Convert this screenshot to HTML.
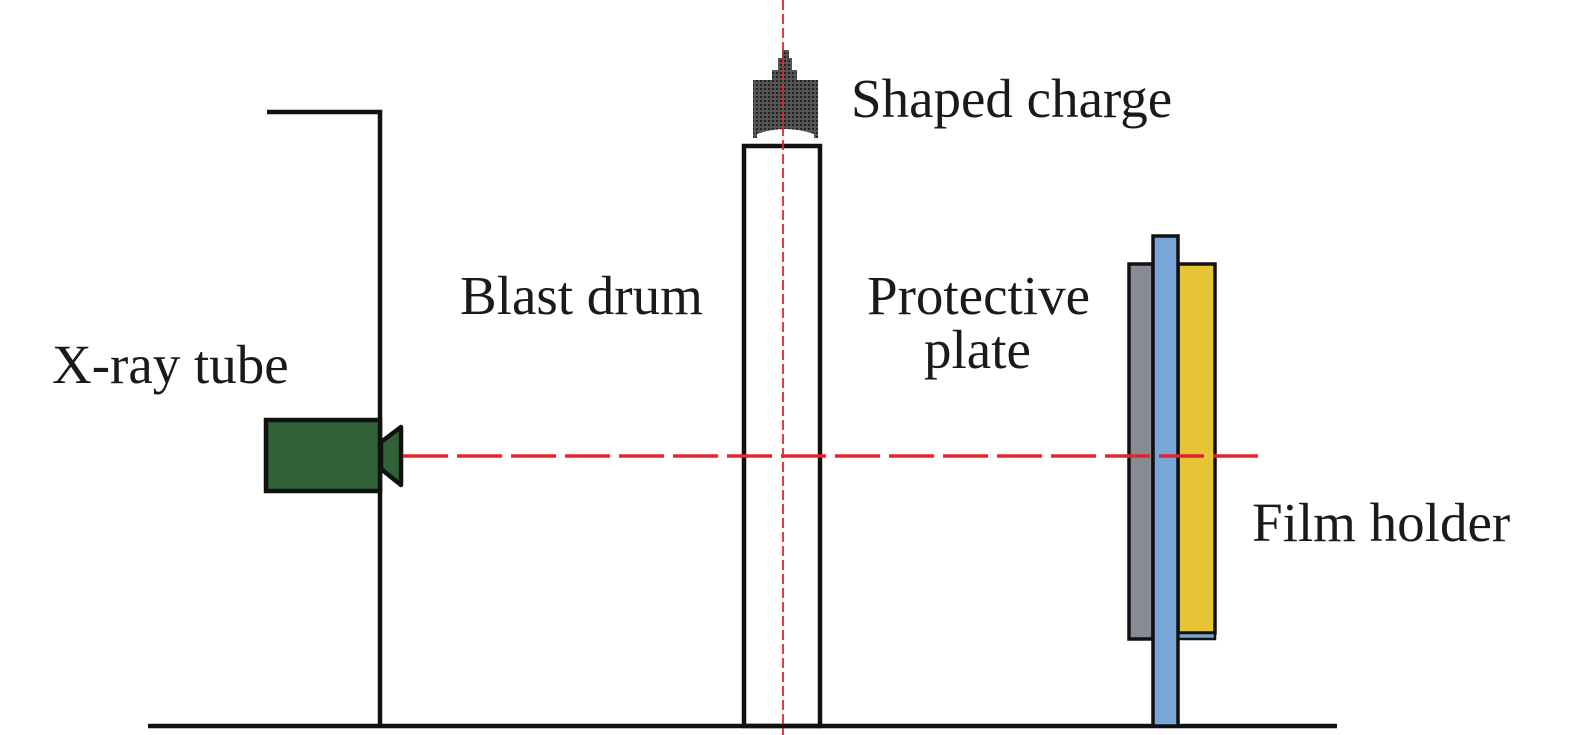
<!DOCTYPE html>
<html><head><style>body{margin:0;background:#fff}svg{display:block}text{font-family:"Liberation Serif",serif;font-size:55px;fill:#1a1a1a}</style></head>
<body>
<svg width="1575" height="735" viewBox="0 0 1575 735" xmlns="http://www.w3.org/2000/svg">
<defs>
<pattern id="h" width="4" height="4" patternUnits="userSpaceOnUse"><rect width="4" height="4" fill="#555"/><rect width="2" height="2" fill="#222"/></pattern>
</defs>
<line x1="148" y1="726" x2="1337" y2="726" stroke="#111" stroke-width="4.5"/>
<polyline points="267,112 380,112 380,726" fill="none" stroke="#111" stroke-width="4.5"/>
<rect x="266" y="420" width="114" height="71" fill="#2f6236" stroke="#111" stroke-width="4.5"/>
<polygon points="381,442 401,427 401,485 381,469" fill="#2f6236" stroke="#111" stroke-width="4.5" stroke-linejoin="round"/>
<rect x="744" y="146" width="76" height="580" fill="none" stroke="#111" stroke-width="4.5"/>
<rect x="753" y="80" width="65" height="58" fill="url(#h)"/>
<rect x="772" y="70" width="25" height="10" fill="url(#h)"/>
<rect x="778" y="58" width="14" height="12" fill="url(#h)"/>
<rect x="782" y="50" width="7" height="8" fill="url(#h)"/>
<path d="M757 138 L757 134 Q785 124 814 134 L814 138 Z" fill="#fff"/>
<rect x="1129" y="264" width="24" height="375" fill="#878b93" stroke="#111" stroke-width="3.5"/>
<rect x="1178" y="264" width="37" height="369" fill="#e5c535" stroke="#111" stroke-width="3.5"/>
<rect x="1178" y="633" width="37" height="6" fill="#78a6d6" stroke="#111" stroke-width="2.5"/>
<rect x="1153" y="236" width="25" height="490" fill="#78a6d6" stroke="#111" stroke-width="3.5"/>
<line x1="403" y1="456" x2="1263" y2="456" stroke="#e0262b" stroke-width="3.5" stroke-dasharray="45,9"/>
<line x1="783" y1="0" x2="783" y2="735" stroke="#e0262b" stroke-width="1.8" stroke-dasharray="10,4"/>
<text x="851" y="117">Shaped charge</text>
<text x="460" y="314">Blast drum</text>
<text x="867" y="314">Protective</text>
<text x="924" y="368">plate</text>
<text x="52" y="383">X-ray tube</text>
<text x="1252" y="541">Film holder</text>
</svg>
</body></html>
